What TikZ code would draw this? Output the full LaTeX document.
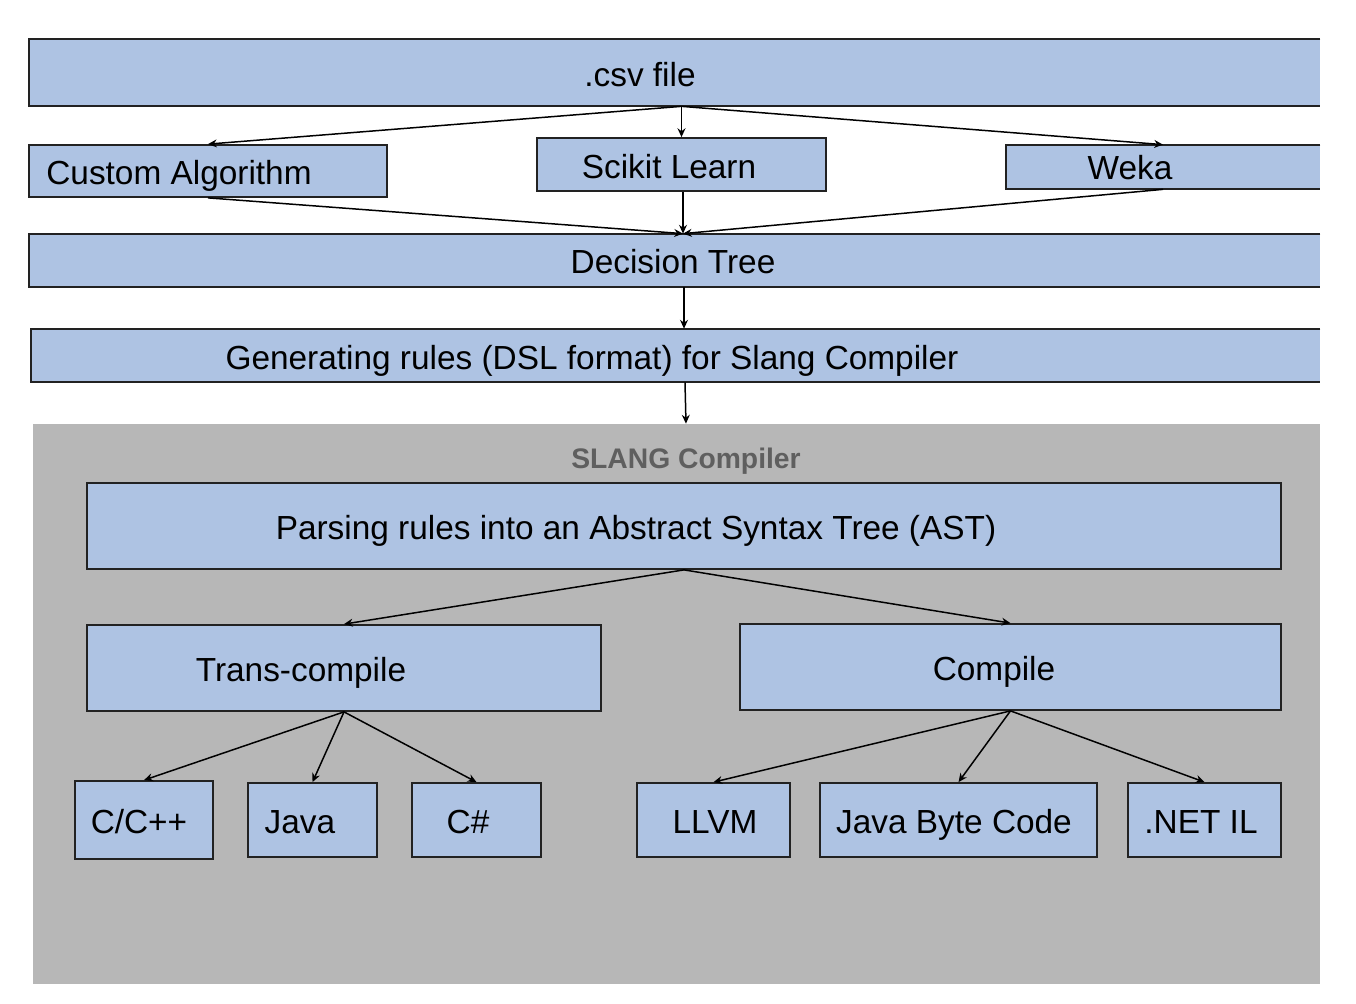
\documentclass[tikz,border=0pt]{standalone}
\usepackage{fontspec}
\setmainfont{Liberation Sans}
\usetikzlibrary{fit,arrows.meta}
\definecolor{boxblue}{RGB}{174,195,227}
\definecolor{slanggray}{RGB}{183,183,183}
\definecolor{edge}{RGB}{34,34,34}
\definecolor{labgray}{RGB}{95,95,95}
\tikzset{
  box/.style={fill=boxblue, draw=edge, line width=1pt, inner sep=0pt},
  openbox/.style={fill=boxblue, draw=none, inner sep=0pt},
  rim/.style={draw=edge, line width=1pt},
  txt/.style={font=\fontsize{19pt}{22pt}\selectfont, text=black, inner sep=0pt, anchor=base},
  arr/.style={draw=black, line width=0.85pt, -{Stealth[length=5pt,width=4.5pt]}},
  slangarea/.style={fill=slanggray, draw=none, inner sep=0pt}
}
\begin{document}
\begin{tikzpicture}[x=0.02cm,y=-0.02cm]
\useasboundingbox (0,0) rectangle (1356,1004);

% top boxes (cut on the right side)
\node[openbox, fit={(29,39) (1320,106)}] (csv) {};
\draw[rim] (csv.north east) -- (csv.north west) -- (csv.south west) -- (csv.south east);
\node[txt] at (640,86) {.csv file};

\node[box, fit={(29,145) (387,197)}] (cust) {};
\node[txt, anchor=base west] at (46,184) {Custom Algorithm};

\node[box, fit={(537,138) (826,191)}] (sk) {};
\node[txt] at (669,178) {Scikit Learn};

\node[openbox, fit={(1006,145) (1320,189)}] (weka) {};
\draw[rim] (weka.north east) -- (weka.north west) -- (weka.south west) -- (weka.south east);
\node[txt] at (1130,179) {Weka};

\node[openbox, fit={(29,234) (1320,287)}] (dt) {};
\draw[rim] (dt.north east) -- (dt.north west) -- (dt.south west) -- (dt.south east);
\node[txt] at (673,273) {Decision Tree};

\node[openbox, fit={(31,329) (1320,382)}] (gen) {};
\draw[rim] (gen.north east) -- (gen.north west) -- (gen.south west) -- (gen.south east);
\node[txt] at (592,369) {Generating rules (DSL format) for Slang Compiler};

% SLANG compiler area
\node[slangarea, fit={(33,424) (1320,984)}] (slang) {};
\node[font=\bfseries\fontsize{16.1pt}{19pt}\selectfont, text=labgray, inner sep=0pt, anchor=base] at (686,468) {SLANG Compiler};

\node[box, fit={(87,483) (1281,569)}] (parse) {};
\node[txt] at (636,539) {Parsing rules into an Abstract Syntax Tree (AST)};

\node[box, fit={(87,625) (601,711)}] (trans) {};
\node[txt] at (301,681) {Trans-compile};

\node[box, fit={(740,624) (1281,710)}] (comp) {};
\node[txt] at (994,680) {Compile};

\node[box, fit={(75,781) (213,859)}] (cc) {};
\node[txt] at (139,833) {C/C++};
\node[box, fit={(248,783) (377,857)}] (java) {};
\node[txt] at (300,833) {Java};
\node[box, fit={(412,783) (541,857)}] (cs) {};
\node[txt] at (468,833) {C\#};

\node[box, fit={(637,783) (790,857)}] (llvm) {};
\node[txt] at (715,833) {LLVM};
\node[box, fit={(820,783) (1097,857)}] (jbc) {};
\node[txt] at (954,833) {Java Byte Code};
\node[box, fit={(1128,783) (1281,857)}] (net) {};
\node[txt] at (1201,833) {.NET IL};

% connectors
\coordinate (csvout) at (csv.south -| sk.center);
\coordinate (dtin) at ([xshift=0.03cm]dt.north -| sk.center);
\draw[arr] (csvout) -- (cust.north);
\draw[arr] (csvout) -- (sk.north);
\draw[arr] (csvout) -- (weka.north);
\draw[arr] (cust.south) -- (dtin);
\draw[arr] ([xshift=0.03cm]sk.south) -- (dtin);
\draw[arr] (weka.south) -- (dtin);
\draw[arr] ([xshift=0.05cm]dt.south -| sk.center) -- ([xshift=0.05cm]gen.north -| sk.center);
\draw[arr] ([xshift=0.07cm]gen.south -| sk.center) -- ([xshift=0.09cm]slang.north -| sk.center);

\draw[arr] (parse.south) -- (trans.north);
\draw[arr] (parse.south) -- (comp.north);
\draw[arr] (trans.south) -- (cc.north);
\draw[arr] (trans.south) -- (java.north);
\draw[arr] (trans.south) -- (cs.north);
\draw[arr] (comp.south) -- (llvm.north);
\draw[arr] (comp.south) -- (jbc.north);
\draw[arr] (comp.south) -- (net.north);
\end{tikzpicture}
\end{document}
